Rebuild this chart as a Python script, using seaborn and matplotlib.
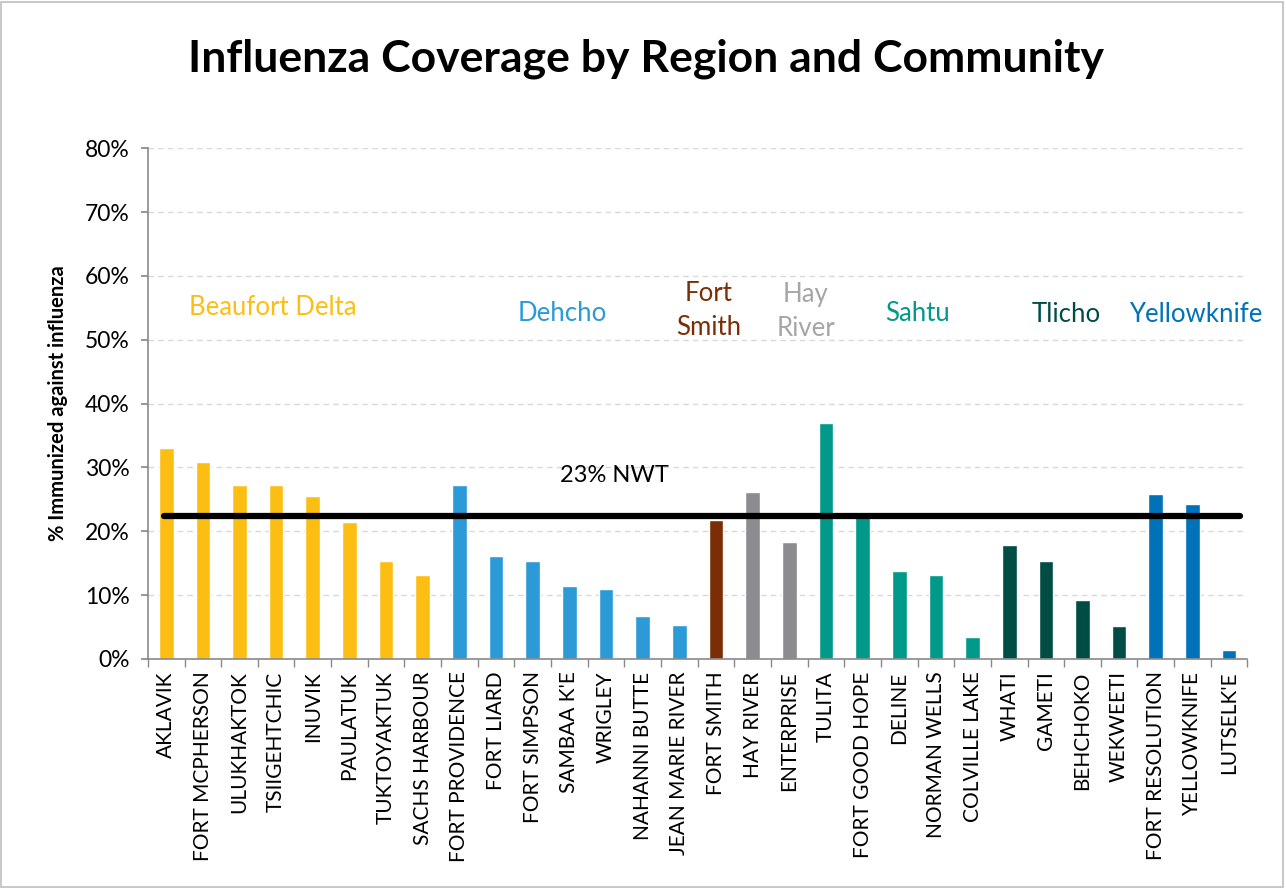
import matplotlib
matplotlib.use("Agg")
import matplotlib.pyplot as plt
import numpy as np
import pandas as pd
import seaborn as sns
from matplotlib.patches import Rectangle

# Chart data
communities = ["AKLAVIK", "FORT MCPHERSON", "ULUKHAKTOK", "TSIIGEHTCHIC", "INUVIK",
               "PAULATUK", "TUKTOYAKTUK", "SACHS HARBOUR",
               "FORT PROVIDENCE", "FORT LIARD", "FORT SIMPSON", "SAMBAA K'E", "WRIGLEY",
               "NAHANNI BUTTE", "JEAN MARIE RIVER",
               "FORT SMITH",
               "HAY RIVER", "ENTERPRISE",
               "TULITA", "FORT GOOD HOPE", "DELINE", "NORMAN WELLS", "COLVILLE LAKE",
               "WHATI", "GAMETI", "BEHCHOKO", "WEKWEETI",
               "FORT RESOLUTION", "YELLOWKNIFE", "LUTSELK'E"]
coverage = [33.0, 30.9, 27.3, 27.3, 25.5, 21.4, 15.3, 13.2,
            27.2, 16.1, 15.3, 11.4, 10.9, 6.7, 5.3,
            21.7,
            26.1, 18.3,
            37.0, 22.2, 13.7, 13.2, 3.4,
            17.8, 15.3, 9.3, 5.1,
            25.8, 24.2, 1.4]
regions = (["Beaufort Delta"] * 8 + ["Dehcho"] * 7 + ["Fort Smith"]
           + ["Hay River"] * 2 + ["Sahtu"] * 5 + ["Tlicho"] * 4 + ["Yellowknife"] * 3)
region_names = ["Beaufort Delta", "Dehcho", "Fort Smith", "Hay River", "Sahtu", "Tlicho", "Yellowknife"]
bar_colors = ["#FDBE14", "#2B9AD6", "#7B2E05", "#8C8C90", "#00998A", "#004D45", "#0072B8"]
label_colors = ["#FDBE14", "#2B9AD6", "#7B2E05", "#A6A6A6", "#00998A", "#004D45", "#0072B8"]
label_text = ["Beaufort Delta", "Dehcho", "Fort\nSmith", "Hay\nRiver", "Sahtu", "Tlicho", "Yellowknife"]
label_x = [2.9, 10.8, 14.8, 17.45, 20.5, 24.55, 28.1]
label_y = [55.1, 54.1, 54.6, 54.4, 54.1, 53.9, 53.9]
nwt_rate = 22.4

df = pd.DataFrame({"community": communities, "coverage": coverage, "region": regions})

sns.set_theme(style="white")
plt.rcParams["font.family"] = ["Lato", "DejaVu Sans"]
plt.rcParams["text.color"] = "black"
plt.rcParams["xtick.color"] = "black"
plt.rcParams["ytick.color"] = "black"
plt.rcParams["axes.labelcolor"] = "black"

fig = plt.figure(figsize=(12.86, 8.88), dpi=100)
ax = fig.add_axes([0.115, 0.258, 0.855, 0.575])

sns.barplot(data=df, x="community", y="coverage", hue="region",
            hue_order=region_names, palette=bar_colors, dodge=False,
            width=0.4, legend=False, ax=ax, saturation=1)

ax.set_ylim(0, 80)
ax.set_xlim(-0.5, len(communities) - 0.5)
ax.set_yticks(np.arange(0, 81, 10))
ax.set_yticklabels([f"{v}%" for v in range(0, 81, 10)], fontsize=16.5)
ax.yaxis.grid(True, color="#D9D9D9", linestyle=(0, (4, 3)), linewidth=1)
ax.set_axisbelow(True)

ax.set_xticks(range(len(communities)))
ax.set_xticklabels(communities, rotation=90, fontsize=15)
ax.set_xticks(np.arange(-0.5, len(communities)), minor=True)
ax.tick_params(axis="x", which="major", length=0, pad=9)
ax.tick_params(axis="x", which="minor", length=6, color="#898989", direction="out", bottom=True)
ax.tick_params(axis="y", length=5, color="#898989", left=True, direction="out",
               labelcolor="black", pad=8)
ax.set_xlabel("")
ax.set_ylabel("% Immunized against influenza", fontsize=14.5, fontweight="bold", labelpad=12)

for side in ["top", "right"]:
    ax.spines[side].set_visible(False)
for side in ["left", "bottom"]:
    ax.spines[side].set_color("#898989")
    ax.spines[side].set_linewidth(1.2)

# NWT average line
ax.plot([-0.05, 29.3], [nwt_rate, nwt_rate], color="black", linewidth=4.5,
        solid_capstyle="round", zorder=5)
ax.text(12.23, 28.8, "23% NWT", fontsize=17, ha="center", va="center")

for txt, x, y, c in zip(label_text, label_x, label_y, label_colors):
    ax.text(x, y, txt, color=c, fontsize=18.5, ha="center", va="center", linespacing=1.45)

fig.suptitle("Influenza Coverage by Region and Community", fontsize=32,
             fontweight="bold", x=0.502, y=0.957, color="black")

fig.patches.append(Rectangle((0.001, 0.001), 0.997, 0.997, transform=fig.transFigure,
                             fill=False, edgecolor="#BFBFBF", linewidth=1.2))

fig.savefig("out.png", dpi=100)
